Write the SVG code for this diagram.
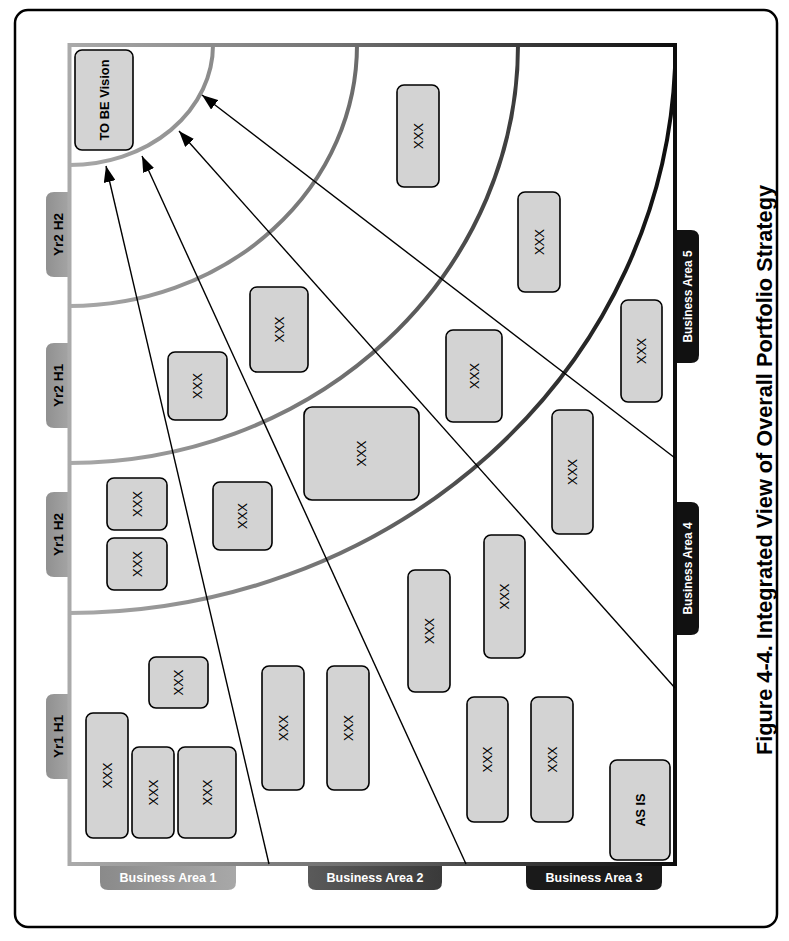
<svg xmlns="http://www.w3.org/2000/svg" width="789" height="941" viewBox="0 0 789 941">
<defs>
<linearGradient id="fg" gradientUnits="userSpaceOnUse" x1="69" y1="0" x2="675" y2="0">
<stop offset="0" stop-color="#aaaaaa"/>
<stop offset="0.45" stop-color="#707070"/>
<stop offset="1" stop-color="#0d0d0d"/>
</linearGradient>
<linearGradient id="t1" x1="0" y1="0" x2="1" y2="0">
<stop offset="0" stop-color="#8a8a8a"/><stop offset="1" stop-color="#a8a8a8"/>
</linearGradient>
<linearGradient id="t2" x1="0" y1="0" x2="1" y2="0">
<stop offset="0" stop-color="#5a5a5a"/><stop offset="1" stop-color="#3a3a3a"/>
</linearGradient>
<linearGradient id="tl" x1="0" y1="0" x2="1" y2="0">
<stop offset="0" stop-color="#909090"/><stop offset="1" stop-color="#a4a4a4"/>
</linearGradient>
<marker id="ah" viewBox="0 0 16 12" refX="16" refY="6" markerWidth="16" markerHeight="12" markerUnits="userSpaceOnUse" orient="auto">
<path d="M0,0 L16,6 L0,12 Z" fill="#000"/>
</marker>
</defs>
<style>
.box{fill:#d3d3d3;stroke:#000;stroke-width:1.6}
.xt{font-family:"Liberation Sans",Arial,sans-serif;font-size:13px;fill:#000;text-anchor:middle}
.bt{font-family:"Liberation Sans Narrow","Liberation Sans",Arial,sans-serif;font-weight:bold;font-size:13px;fill:#000;text-anchor:middle}
.wt{font-family:"Liberation Sans Narrow","Liberation Sans",Arial,sans-serif;font-weight:bold;font-size:13px;fill:#fff;text-anchor:middle}
.arc{fill:none;stroke:url(#fg);stroke-width:4}
.ln{fill:none;stroke:#000;stroke-width:1.4}
</style>
<rect x="15" y="10" width="762" height="917" rx="13" fill="#fff" stroke="#000" stroke-width="2.5"/>

<g id="tabs">
<g id="tab-yr2h2"><path d="M69,192 H54 Q46,192 46,200 V269 Q46,277 54,277 H69 Z" fill="url(#tl)"/><text class="bt" transform="translate(58,234.5) rotate(-90)" dy="4.5" textLength="43" lengthAdjust="spacingAndGlyphs">Yr2 H2</text></g>
<g id="tab-yr2h1"><path d="M69,343 H54 Q46,343 46,351 V420 Q46,428 54,428 H69 Z" fill="url(#tl)"/><text class="bt" transform="translate(58,385.5) rotate(-90)" dy="4.5" textLength="43" lengthAdjust="spacingAndGlyphs">Yr2 H1</text></g>
<g id="tab-yr1h2"><path d="M69,492 H54 Q46,492 46,500 V569 Q46,577 54,577 H69 Z" fill="url(#tl)"/><text class="bt" transform="translate(58,534.5) rotate(-90)" dy="4.5" textLength="43" lengthAdjust="spacingAndGlyphs">Yr1 H2</text></g>
<g id="tab-yr1h1"><path d="M69,694 H54 Q46,694 46,702 V771 Q46,779 54,779 H69 Z" fill="url(#tl)"/><text class="bt" transform="translate(58,736.5) rotate(-90)" dy="4.5" textLength="43" lengthAdjust="spacingAndGlyphs">Yr1 H1</text></g>
<g id="tab-ba1"><path d="M100,864 V882 Q100,890 108,890 H228 Q236,890 236,882 V864 Z" fill="url(#t1)"/><text class="wt" x="168" y="882" textLength="97" lengthAdjust="spacingAndGlyphs" font-size="14">Business Area 1</text></g>
<g id="tab-ba2"><path d="M308,864 V882 Q308,890 316,890 H434 Q442,890 442,882 V864 Z" fill="url(#t2)"/><text class="wt" x="375" y="882" textLength="97" lengthAdjust="spacingAndGlyphs" font-size="14">Business Area 2</text></g>
<g id="tab-ba3"><path d="M526,864 V882 Q526,890 534,890 H654 Q662,890 662,882 V864 Z" fill="#1a1a1a"/><text class="wt" x="594" y="882" textLength="97" lengthAdjust="spacingAndGlyphs" font-size="14">Business Area 3</text></g>
<g id="tab-ba5"><path d="M675,230 H691 Q699,230 699,238 V355 Q699,363 691,363 H675 Z" fill="#111"/><text class="wt" transform="translate(687,296.5) rotate(-90)" dy="4.5" textLength="92" lengthAdjust="spacingAndGlyphs">Business Area 5</text></g>
<g id="tab-ba4"><path d="M675,502 H691 Q699,502 699,510 V627 Q699,635 691,635 H675 Z" fill="#111"/><text class="wt" transform="translate(687,568.5) rotate(-90)" dy="4.5" textLength="92" lengthAdjust="spacingAndGlyphs">Business Area 4</text></g>
</g>

<g id="frame">
<rect x="69.5" y="45" width="605.5" height="819" fill="none" stroke="url(#fg)" stroke-width="4"/>
<path class="arc" d="M69.5,165 A143.5,120 0 0 0 213,45"/>
<path class="arc" d="M69.5,306 A287.5,261 0 0 0 357,45"/>
<path class="arc" d="M69.5,463 A448.5,418 0 0 0 518,45"/>
<path class="arc" d="M69.5,613 A606,568 0 0 0 675,68"/>
</g>

<g id="connectors">
<line class="ln" x1="269" y1="864" x2="106" y2="166" marker-end="url(#ah)"/>
<line class="ln" x1="466" y1="864" x2="142" y2="156" marker-end="url(#ah)"/>
<line class="ln" x1="675" y1="688" x2="179" y2="131" marker-end="url(#ah)"/>
<line class="ln" x1="675" y1="458" x2="202" y2="95" marker-end="url(#ah)"/>
</g>

<g id="n-tobe"><rect class="box" x="75" y="50" width="58" height="100" rx="7"/><text class="bt" transform="translate(104,100) rotate(-90)" dy="4.5" textLength="81" lengthAdjust="spacingAndGlyphs">TO BE Vision</text></g>
<g id="n1"><rect class="box" x="86" y="713" width="42" height="125" rx="7"/><text class="xt" transform="translate(107,775.5) rotate(-90)" dy="4.5">XXX</text></g>
<g id="n2"><rect class="box" x="132" y="747" width="42" height="91" rx="7"/><text class="xt" transform="translate(153,792.5) rotate(-90)" dy="4.5">XXX</text></g>
<g id="n3"><rect class="box" x="178" y="747" width="58" height="91" rx="7"/><text class="xt" transform="translate(207,792.5) rotate(-90)" dy="4.5">XXX</text></g>
<g id="n4"><rect class="box" x="149" y="657" width="59" height="51" rx="7"/><text class="xt" transform="translate(178.5,682.5) rotate(-90)" dy="4.5">XXX</text></g>
<g id="n5"><rect class="box" x="262" y="666" width="42" height="124" rx="7"/><text class="xt" transform="translate(283,728) rotate(-90)" dy="4.5">XXX</text></g>
<g id="n6"><rect class="box" x="327" y="666" width="42" height="124" rx="7"/><text class="xt" transform="translate(348,728) rotate(-90)" dy="4.5">XXX</text></g>
<g id="n7"><rect class="box" x="408" y="570" width="42" height="122" rx="7"/><text class="xt" transform="translate(429,631) rotate(-90)" dy="4.5">XXX</text></g>
<g id="n8"><rect class="box" x="467" y="697" width="41" height="125" rx="7"/><text class="xt" transform="translate(487.5,759.5) rotate(-90)" dy="4.5">XXX</text></g>
<g id="n9"><rect class="box" x="531" y="697" width="42" height="125" rx="7"/><text class="xt" transform="translate(552,759.5) rotate(-90)" dy="4.5">XXX</text></g>
<g id="n-asis"><rect class="box" x="610" y="760" width="60" height="100" rx="7"/><text class="bt" transform="translate(640,810) rotate(-90)" dy="5" font-size="14" textLength="33" lengthAdjust="spacingAndGlyphs">AS IS</text></g>
<g id="n10"><rect class="box" x="484" y="535" width="41" height="123" rx="7"/><text class="xt" transform="translate(504.5,596.5) rotate(-90)" dy="4.5">XXX</text></g>
<g id="n11"><rect class="box" x="552" y="410" width="41" height="124" rx="7"/><text class="xt" transform="translate(572.5,472) rotate(-90)" dy="4.5">XXX</text></g>
<g id="n12"><rect class="box" x="621" y="300" width="41" height="102" rx="7"/><text class="xt" transform="translate(641.5,351) rotate(-90)" dy="4.5">XXX</text></g>
<g id="n13"><rect class="box" x="446" y="330" width="56" height="92" rx="7"/><text class="xt" transform="translate(474,376) rotate(-90)" dy="4.5">XXX</text></g>
<g id="n14"><rect class="box" x="518" y="192" width="42" height="100" rx="7"/><text class="xt" transform="translate(539,242) rotate(-90)" dy="4.5">XXX</text></g>
<g id="n15"><rect class="box" x="397" y="85" width="42" height="102" rx="7"/><text class="xt" transform="translate(418,136) rotate(-90)" dy="4.5">XXX</text></g>
<g id="n16"><rect class="box" x="304" y="407" width="115" height="93" rx="8"/><text class="xt" transform="translate(361.5,453.5) rotate(-90)" dy="4.5">XXX</text></g>
<g id="n17"><rect class="box" x="213" y="482" width="59" height="68" rx="7"/><text class="xt" transform="translate(242.5,516) rotate(-90)" dy="4.5">XXX</text></g>
<g id="n18"><rect class="box" x="168" y="352" width="59" height="68" rx="7"/><text class="xt" transform="translate(197.5,386) rotate(-90)" dy="4.5">XXX</text></g>
<g id="n19"><rect class="box" x="107" y="478" width="60" height="52" rx="7"/><text class="xt" transform="translate(137,504) rotate(-90)" dy="4.5">XXX</text></g>
<g id="n20"><rect class="box" x="107" y="538" width="60" height="52" rx="7"/><text class="xt" transform="translate(137,564) rotate(-90)" dy="4.5">XXX</text></g>
<g id="n21"><rect class="box" x="250" y="287" width="58" height="85" rx="7"/><text class="xt" transform="translate(279,329.5) rotate(-90)" dy="4.5">XXX</text></g>

<text transform="translate(772,470) rotate(-90)" text-anchor="middle" font-family="'Liberation Sans Narrow','Liberation Sans',Arial,sans-serif" font-weight="bold" font-size="22" textLength="570" lengthAdjust="spacingAndGlyphs" fill="#000">Figure 4-4. Integrated View of Overall Portfolio Strategy</text>
</svg>
